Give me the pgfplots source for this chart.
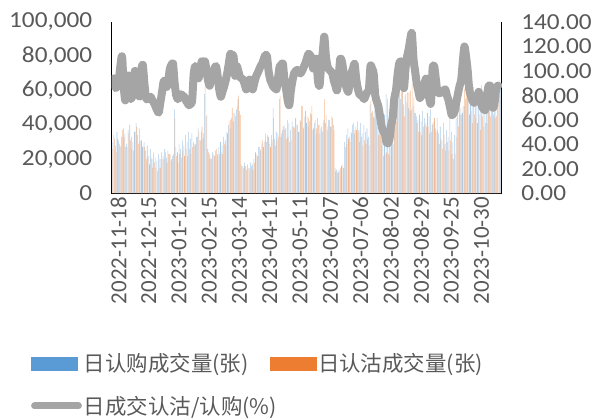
\documentclass[border=0pt]{standalone}
\usepackage{pgfplots}
\pgfplotsset{compat=1.18}
\usepackage{pgfplotstable}
\usepackage{fontspec}
\setmainfont{Carlito}
\newfontfamily\wide[FakeStretch=1.1]{Carlito}
\newfontfamily\cjk{Noto Sans CJK SC}

\definecolor{cblue}{HTML}{5B9BD5}
\definecolor{corange}{HTML}{ED7D31}
\definecolor{cgrey}{HTML}{A5A5A5}
\definecolor{ctext}{HTML}{595959}

% c = call volume, p = put volume, r = put/call (%)
\pgfplotstableread{
c p r
30000 26000 87
34000 32000 94
28000 24000 86
36000 32000 88
31000 29000 93
27000 28000 105
33000 37000 112
38000 33000 88
35000 27000 76
29000 27000 92
37000 35000 96
40000 31000 78
33000 26000 78
30000 25000 82
36000 36000 100
41000 39000 95
34000 29000 86
38000 30000 79
31000 31000 100
27000 28000 105
30000 27000 90
25000 20000 78
28000 22000 77
22000 17000 78
26000 21000 79
20000 15000 76
24000 18000 74
21000 15000 71
19000 13000 68
23000 15000 66
20000 15000 74
24000 20000 82
22000 20000 91
26000 24000 92
21000 18000 87
25000 23000 92
23000 23000 102
19000 20000 105
22000 23000 106
49000 44000 90
27000 22000 80
24000 18000 77
29000 23000 79
26000 21000 81
31000 25000 80
28000 22000 79
34000 26000 76
30000 22000 74
36000 26000 72
32000 23000 73
35000 27000 76
30000 29000 98
28000 29000 104
33000 33000 100
38000 36000 94
31000 31000 100
36000 39000 108
32000 35000 107
58000 63000 108
45000 46000 101
26000 24000 92
23000 20000 88
21000 20000 94
24000 23000 97
22000 22000 102
25000 26000 104
23000 22000 96
27000 23000 85
30000 24000 79
28000 23000 83
33000 29000 87
31000 28000 92
36000 35000 98
40000 42000 106
38000 43000 114
44000 50000 113
42000 47000 112
47000 45000 96
49000 51000 104
55000 57000 100
48000 46000 95
17000 16000 94
16000 15000 93
18000 16000 89
16000 14000 85
17000 15000 89
15000 14000 93
18000 16000 89
17000 14000 85
20000 18000 90
24000 23000 95
22000 22000 98
27000 27000 101
25000 26000 104
29000 31000 106
27000 30000 110
31000 35000 113
30000 34000 112
33000 33000 100
29000 27000 93
34000 31000 90
50000 44000 87
32000 28000 86
36000 31000 85
35000 33000 95
55000 57000 104
33000 35000 105
37000 39000 106
40000 37000 92
38000 32000 85
43000 33000 76
41000 30000 72
37000 31000 84
42000 39000 92
39000 38000 98
44000 44000 100
40000 40000 101
36000 36000 99
43000 42000 98
51000 51000 100
38000 39000 103
45000 48000 106
41000 45000 110
39000 44000 114
42000 47000 113
46000 51000 111
37000 38000 102
41000 43000 106
35000 38000 110
44000 40000 92
40000 35000 88
38000 39000 104
36000 41000 115
43000 55000 128
41000 46000 112
37000 39000 104
43000 43000 101
39000 39000 100
45000 44000 98
40000 37000 92
15000 13000 88
14000 12000 84
13000 12000 95
14000 15000 110
16000 17000 108
15000 15000 100
30000 27000 91
34000 29000 86
38000 32000 83
33000 30000 90
36000 35000 98
40000 41000 102
35000 37000 106
39000 37000 94
42000 36000 86
37000 30000 81
41000 33000 80
35000 28000 79
40000 31000 77
36000 29000 80
38000 32000 83
33000 28000 85
52000 54000 104
47000 48000 102
45000 44000 98
60000 48000 80
52000 39000 75
48000 34000 71
55000 35000 63
50000 28000 55
44000 22000 51
46000 23000 49
58000 24000 42
55000 23000 41
49000 22000 45
53000 30000 56
47000 29000 62
54000 42000 78
50000 42000 84
56000 54000 97
58000 62000 106
55000 59000 108
60000 62000 104
52000 45000 86
57000 58000 102
53000 59000 112
50000 59000 118
48000 60000 126
49000 64000 131
51000 56000 110
47000 47000 100
45000 41000 90
43000 36000 84
46000 36000 78
42000 34000 80
48000 39000 82
44000 40000 90
41000 39000 94
47000 39000 84
45000 35000 77
49000 36000 74
40000 41000 102
42000 44000 104
38000 36000 94
44000 37000 83
35000 29000 82
39000 32000 82
31000 26000 83
41000 34000 84
29000 25000 85
37000 30000 80
33000 25000 76
45000 31000 70
36000 23000 64
30000 20000 65
34000 23000 68
44000 33000 75
48000 39000 82
52000 46000 88
50000 46000 93
47000 51000 108
51000 61000 120
55000 62000 112
58000 59000 101
54000 46000 85
60000 48000 80
56000 41000 76
62000 46000 74
58000 44000 76
52000 41000 78
55000 46000 83
49000 37000 76
63000 45000 71
57000 39000 69
61000 41000 68
53000 41000 78
58000 50000 87
51000 45000 88
60000 48000 80
65000 46000 70
59000 44000 75
52000 45000 86
63000 55000 88
66000 57000 87
61000 52000 86
}\data

\begin{document}
\begin{tikzpicture}
\pgfplotsset{
    every axis/.append style={
        scale only axis,
        width=391pt, height=172pt,
        xmin=-0.5, xmax=244.5,
        major tick length=0pt,
        axis line style={black, line width=1.3pt},
        tick label style={text=ctext},
        yticklabel style={font=\wide\fontsize{23}{27}\selectfont},
        /pgf/number format/assume math mode=true,
    },
}
\begin{axis}[
    name=ax,
    ymin=0, ymax=100000,
    axis x line*=bottom,
    axis y line*=left,
    ytick={0,20000,40000,60000,80000,100000},
    scaled y ticks=false,
    yticklabel={\pgfmathprintnumber[fixed, 1000 sep={,}]{\tick}},
    yticklabel style={xshift=-16pt},
    xtick={0,19,38,57,76,95,114,133,152,171,190,209,228},
    xticklabels={2022-11-18,2022-12-15,2023-01-12,2023-02-15,2023-03-14,2023-04-11,2023-05-11,2023-06-07,2023-07-06,2023-08-02,2023-08-29,2023-09-25,2023-10-30},
    xticklabel style={rotate=90, anchor=east, yshift=-6pt, font=\fontsize{23}{27}\selectfont},
]
\addplot[ybar, bar width=0.35, bar shift=-0.2, fill=cblue, fill opacity=0.5, draw=none]
    table[x expr=\coordindex, y=c]{\data};
\addplot[ybar, bar width=0.35, bar shift=0.2, fill=corange, fill opacity=0.5, draw=none]
    table[x expr=\coordindex, y=p]{\data};
\end{axis}

\begin{axis}[
    ymin=0, ymax=140,
    axis x line=none,
    axis y line*=right,
    ytick={0,20,...,140},
    yticklabel={\pgfmathprintnumber[fixed, fixed zerofill, precision=2]{\tick}},
    yticklabel style={xshift=16pt},
    legend style={at={(-0.215,-0.907)}, anchor=north west, draw=none, fill=none,
        legend columns=2, font=\cjk\fontsize{21.5}{25}\selectfont, text=ctext,
        row sep=19pt,
        /tikz/every even column/.append style={column sep=-9pt}},
    legend cell align=left,
]
\addlegendimage{legend image code/.code={\fill[cblue] (0pt,-6.5pt) rectangle (46pt,6.5pt);}}
\addlegendentry{日认购成交量(张)}
\addlegendimage{legend image code/.code={\fill[corange] (0pt,-6.5pt) rectangle (46pt,6.5pt);}}
\addlegendentry{日认沽成交量(张)}
\addplot[cgrey, line width=8pt, line join=round, smooth, tension=0.4,
    legend image code/.code={\draw[cgrey, line width=7pt, line cap=round] (3pt,0pt) -- (47pt,0pt);}]
    table[x expr=\coordindex, y=r]{\data};
\addlegendentry{日成交认沽/认购(\%)}
\end{axis}

\path ([xshift=-112pt,yshift=-223pt]ax.south west) rectangle ([xshift=483pt,yshift=194pt]ax.south west);
\end{tikzpicture}
\end{document}
